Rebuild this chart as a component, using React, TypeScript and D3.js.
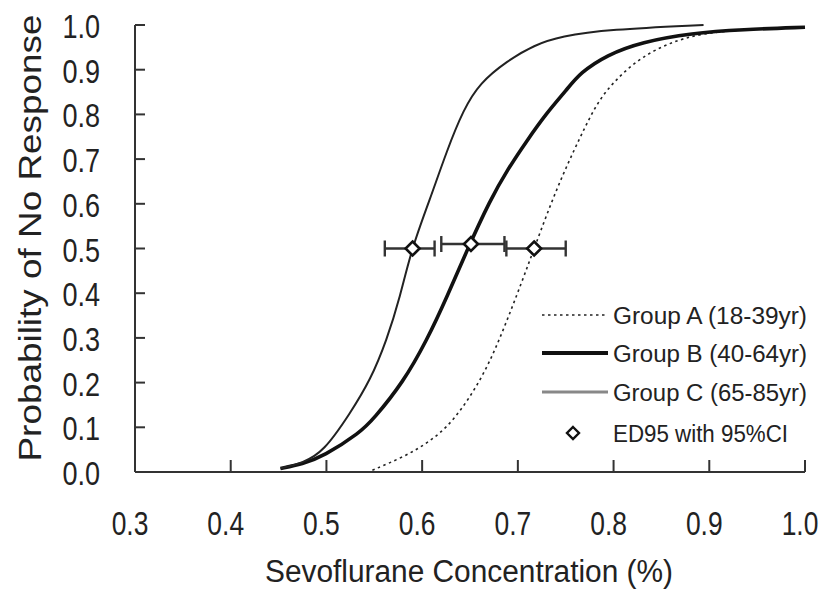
import React from 'react';
import * as d3 from 'd3';

// dose–response curves (concentration %, probability)
const groupAConc = [0.548, 0.581, 0.606, 0.632, 0.664, 0.685, 0.705, 0.717, 0.741, 0.765, 0.784, 0.805, 0.829, 0.858, 0.892, 0.94, 1.0];
const groupAProb = [0.004, 0.034, 0.065, 0.11, 0.213, 0.318, 0.43, 0.5, 0.638, 0.749, 0.832, 0.884, 0.928, 0.96, 0.982, 0.99, 0.995];

const groupBConc = [0.452, 0.475, 0.497, 0.535, 0.549, 0.580, 0.605, 0.626, 0.647, 0.671, 0.689, 0.710, 0.730, 0.751, 0.765, 0.793, 0.829, 0.882, 0.934, 1.0];
const groupBProb = [0.008, 0.018, 0.035, 0.088, 0.118, 0.2, 0.295, 0.392, 0.497, 0.608, 0.676, 0.743, 0.803, 0.855, 0.893, 0.933, 0.962, 0.982, 0.99, 0.995];

const groupCConc = [0.452, 0.475, 0.497, 0.525, 0.546, 0.563, 0.577, 0.589, 0.608, 0.626, 0.643, 0.660, 0.689, 0.717, 0.745, 0.795, 0.894];
const groupCProb = [0.008, 0.02, 0.045, 0.132, 0.206, 0.295, 0.392, 0.5, 0.609, 0.72, 0.81, 0.87, 0.92, 0.955, 0.975, 0.99, 1.0];

// ED95 estimates with 95% CI (order: C, B, A)
const edEstimate = [0.590, 0.651, 0.717];
const edLower = [0.561, 0.620, 0.688];
const edUpper = [0.613, 0.686, 0.750];
const edProb = [0.50, 0.51, 0.50];

const xTicks = [0.3, 0.4, 0.5, 0.6, 0.7, 0.8, 0.9, 1.0];
const yTicks = [0.0, 0.1, 0.2, 0.3, 0.4, 0.5, 0.6, 0.7, 0.8, 0.9, 1.0];

const legendLabels = ['Group A (18-39yr)', 'Group B (40-64yr)', 'Group C (65-85yr)', 'ED95 with 95%CI'];

const FONT = '"Liberation Sans", Arial, sans-serif';
const INK = '#222';

const App = () => {
  const x = d3.scaleLinear().domain([0.3, 1.0]).range([135, 805]);
  const y = d3.scaleLinear().domain([0, 1]).range([472, 25]);

  const line = d3
    .line<[number, number]>()
    .x((d) => x(d[0]))
    .y((d) => y(d[1]))
    .curve(d3.curveBasis);

  const zip = (a: number[], b: number[]) => a.map((v, i) => [v, b[i]] as [number, number]);

  const diamond = (cx: number, cy: number, r: number) =>
    `M${cx},${cy - r}L${cx + r},${cy}L${cx},${cy + r}L${cx - r},${cy}Z`;

  const legendRows = [315, 353, 392, 433];

  return (
    <svg
      width={823}
      height={590}
      style={{ position: 'absolute', left: 0, top: 0, background: '#fff' }}
      fontFamily={FONT}
    >
      {/* axes */}
      <g stroke="#333" strokeWidth={2} fill="none">
        <line x1={x(0.3)} x2={x(0.3)} y1={y(1)} y2={y(0)} />
        <line x1={x(0.3)} x2={x(1.0)} y1={y(0)} y2={y(0)} />
        {yTicks.map((t) => (
          <line key={'yt' + t} x1={x(0.3)} x2={x(0.3) + 10} y1={y(t)} y2={y(t)} />
        ))}
        {xTicks.map((t) => (
          <line key={'xt' + t} x1={x(t)} x2={x(t)} y1={y(0)} y2={y(0) - 12} />
        ))}
      </g>

      {yTicks.map((t) => (
        <text
          key={'yl' + t}
          transform={`translate(100,${y(t) + 13}) scale(0.82,1)`}
          textAnchor="end"
          fontSize={33}
          fill={INK}
        >
          {t.toFixed(1)}
        </text>
      ))}
      {xTicks.map((t) => (
        <text
          key={'xl' + t}
          transform={`translate(${x(t) - 5},535) scale(0.8,1)`}
          textAnchor="middle"
          fontSize={33}
          fill={INK}
        >
          {t.toFixed(1)}
        </text>
      ))}

      <text
        x={469}
        y={582}
        textAnchor="middle"
        fontSize={31}
        fill={INK}
        textLength={408}
        lengthAdjust="spacingAndGlyphs"
      >
        Sevoflurane Concentration (%)
      </text>
      <text
        transform="translate(41,238) rotate(-90)"
        textAnchor="middle"
        fontSize={32}
        fill={INK}
        textLength={447}
        lengthAdjust="spacingAndGlyphs"
      >
        Probability of No Response
      </text>

      {/* curves */}
      <path d={line(zip(groupAConc, groupAProb)) || ''} fill="none" stroke={INK} strokeWidth={1.6} strokeDasharray="2.5,3.5" />
      <path d={line(zip(groupBConc, groupBProb)) || ''} fill="none" stroke="#111" strokeWidth={3.6} />
      <path d={line(zip(groupCConc, groupCProb)) || ''} fill="none" stroke={INK} strokeWidth={2} />

      {/* ED95 with CI */}
      {edEstimate.map((e, i) => (
        <g key={'ed' + i} stroke="#333" strokeWidth={2.4}>
          <line x1={x(edLower[i])} x2={x(edUpper[i])} y1={y(edProb[i])} y2={y(edProb[i])} />
          <line x1={x(edLower[i])} x2={x(edLower[i])} y1={y(edProb[i]) - 8} y2={y(edProb[i]) + 8} />
          <line x1={x(edUpper[i])} x2={x(edUpper[i])} y1={y(edProb[i]) - 8} y2={y(edProb[i]) + 8} />
          <path d={diamond(x(e), y(edProb[i]), 7)} fill="#fff" stroke="#111" strokeWidth={2.6} />
        </g>
      ))}

      {/* legend */}
      <line x1={542} x2={608} y1={legendRows[0]} y2={legendRows[0]} stroke={INK} strokeWidth={1.6} strokeDasharray="2.5,3.5" />
      <line x1={542} x2={608} y1={legendRows[1]} y2={legendRows[1]} stroke="#111" strokeWidth={4} />
      <line x1={542} x2={608} y1={legendRows[2]} y2={legendRows[2]} stroke="#888" strokeWidth={3} />
      <path d={diamond(573, legendRows[3], 6)} fill="#fff" stroke="#111" strokeWidth={2.4} />
      {legendLabels.map((l, i) => (
        <text
          key={l}
          x={613}
          y={legendRows[i] + 9}
          fontSize={23}
          fill={INK}
          textLength={i === 3 ? 175 : 194}
          lengthAdjust="spacingAndGlyphs"
        >
          {l}
        </text>
      ))}
    </svg>
  );
};

export default App;
